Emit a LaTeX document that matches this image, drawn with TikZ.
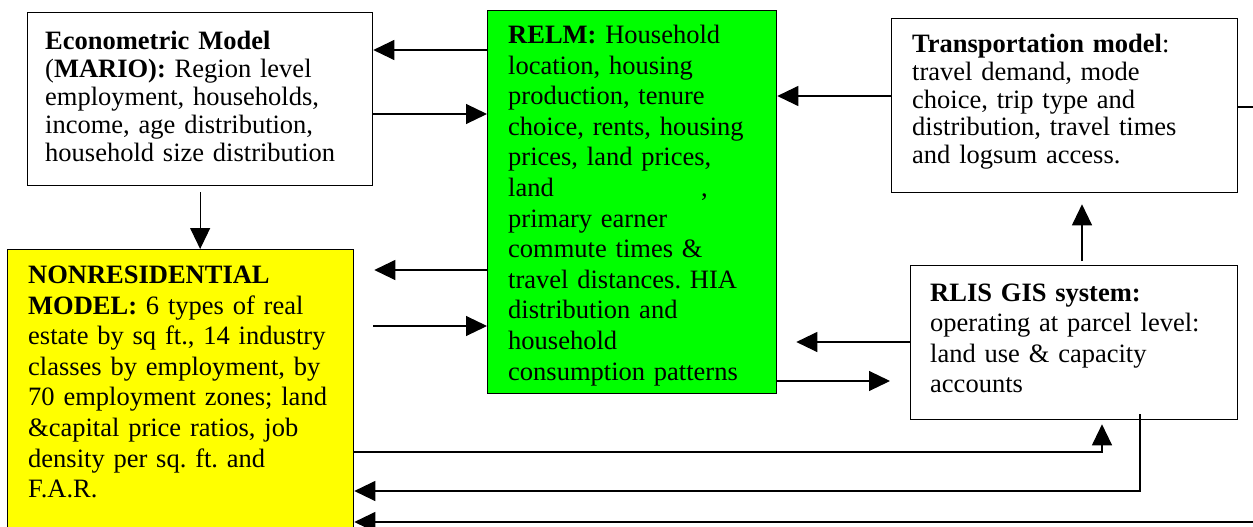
\documentclass[tikz,border=0pt]{standalone}
\usepackage{fontspec}
\setmainfont{Liberation Serif}
\usetikzlibrary{arrows.meta}
\definecolor{relmgreen}{RGB}{0,255,0}
\definecolor{nryellow}{RGB}{255,255,0}
\tikzset{
  modelbox/.style={draw=black, line width=1.3pt, inner sep=0pt, anchor=north west, fill=white},
  modeltext/.style={anchor=base west, inner sep=0pt, text width=340pt, align=left},
  tightlines/.style={font=\fontsize{26.5}{28}\selectfont\frenchspacing},
  looselines/.style={font=\fontsize{26.5}{30.6}\selectfont\frenchspacing},
  flow/.style={line width=1.1pt, -{Triangle[length=21pt,width=20pt]}}
}
\begin{document}
\frenchspacing
\begin{tikzpicture}[x=1pt,y=-1pt]
\useasboundingbox (0,0) rectangle (1253,527);
\clip (0,0) rectangle (1253,527);
\fill[white] (0,0) rectangle (1253,527);

% boxes
\node[modelbox, minimum width=345pt, minimum height=173pt] (econ) at (27,12) {};
\node[modelbox, fill=relmgreen, minimum width=289pt, minimum height=383pt] (relm) at (487,10) {};
\node[modelbox, minimum width=346pt, minimum height=174pt] (trans) at (891,18) {};
\node[modelbox, fill=nryellow, minimum width=346pt, minimum height=320pt] (nonres) at (7,249) {};
\node[modelbox, minimum width=327pt, minimum height=154pt] (rlis) at (910,265) {};

% texts
\node[modeltext, tightlines] (econtxt) at (45,49.3) {\textbf{Econometric Model}\\(\textbf{MARIO):} Region level\\employment, households,\\income, age distribution,\\household size distribution};
\node[modeltext, looselines] (relmtxt) at (508,43.5) {\textbf{RELM:} Household\\location, housing\\production, tenure\\choice, rents, housing\\prices, land prices,\\\makebox[193pt][l]{land},\\primary earner\\commute times \&\\travel distances. HIA\\distribution and\\household\\consumption patterns};
\node[modeltext, font=\fontsize{26.5}{27.7}\selectfont\frenchspacing] (transtxt) at (912,52.7) {\textbf{Transportation model}:\\travel demand, mode\\choice, trip type and\\distribution, travel times\\and logsum access.};
\node[modeltext, looselines] (nonrestxt) at (28,283.5) {\textbf{NONRESIDENTIAL}\\\textbf{MODEL:} 6 types of real\\estate by sq ft., 14 industry\\classes by employment, by\\70 employment zones; land\\\&capital price ratios, job\\density per sq. ft. and\\F.A.R.};
\node[modeltext, font=\fontsize{26.5}{30.3}\selectfont\frenchspacing] (rlistxt) at (930,301.5) {\textbf{RLIS GIS system:}\\operating at parcel level:\\land use \& capacity\\accounts};

% connectors
\draw[flow] (relm.west |- 0,50) -- (econ.east |- 0,50);
\draw[flow] (econ.east |- 0,114) -- (relm.west |- 0,114);
\draw[flow, shorten <=6pt] (econ.south) -- (econ.south |- nonres.north);
\draw[flow] (trans.west |- 0,96) -- (relm.east |- 0,96);
\draw[flow, shorten >=20pt] (relm.west |- 0,270) -- (nonres.east |- 0,270);
\draw[flow, shorten <=19pt] (nonres.east |- 0,326) -- (relm.west |- 0,326);
\draw[flow, shorten >=19pt] (rlis.west |- 0,342) -- (relm.east |- 0,342);
\draw[flow, shorten >=20pt] (relm.east |- 0,381) -- (rlis.west |- 0,381);
\draw[flow, shorten <=4pt, shorten >=11pt] (rlis.north -| 1082,0) -- (trans.south -| 1082,0);
\draw[flow, shorten >=4pt] (nonres.east |- 0,452) -| (rlis.south -| 1102,0);
\draw[flow, shorten <=-6pt] (rlis.south -| 1140,0) |- (nonres.east |- 0,491);
\draw[flow] (trans.east |- 0,107) -- ++(40,0) |- (nonres.east |- 0,522);
\end{tikzpicture}
\end{document}
